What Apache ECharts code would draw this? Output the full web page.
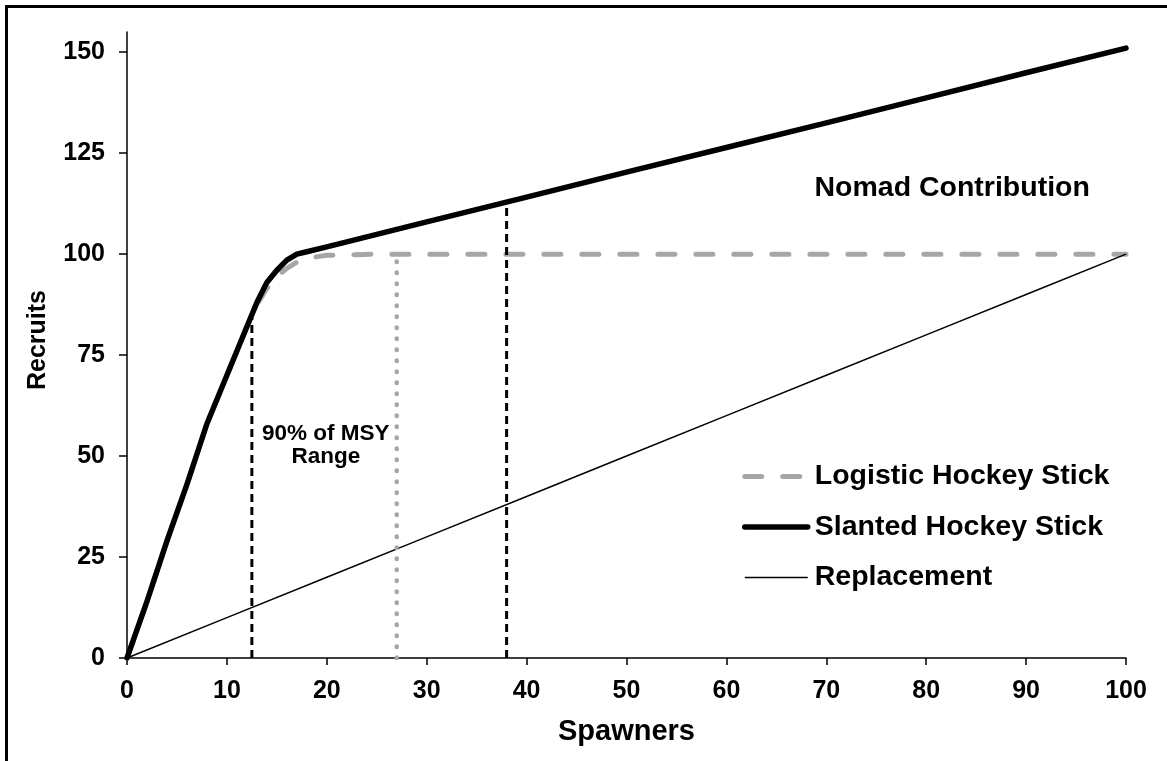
<!DOCTYPE html>
<html><head><meta charset="utf-8">
<script src="https://cdn.jsdelivr.net/npm/echarts@6/dist/echarts.min.js"></script>
<style>html,body{margin:0;padding:0;background:#fff}#c{width:1167px;height:761px}</style>
</head><body><div id="c"></div>
<script>
// ---- data ----
const spawners            = [0, 2, 4, 6, 8, 10, 12, 13, 14, 15, 16, 17, 18, 20, 25, 30, 40, 50, 60, 70, 80, 90, 100];
const slantedHockeyStick  = [0, 14, 29, 43, 58, 70, 82, 88, 93, 96, 98.5, 100, 100.6, 101.8, 104.9, 108, 114.1, 120.3, 126.4, 132.5, 138.7, 144.9, 151];
const logisticHockeyStick = [0, 14, 29, 43, 58, 70, 82, 87.5, 91.5, 94.5, 96.5, 98, 99, 99.7, 100, 100, 100, 100, 100, 100, 100, 100, 100];
const replacementSpawners = [0, 10, 20, 30, 40, 50, 60, 70, 80, 90, 100];
const replacementRecruits = [0, 10, 20, 30, 40, 50, 60, 70, 80, 90, 100];
const xTickValues = [0, 10, 20, 30, 40, 50, 60, 70, 80, 90, 100];
const yTickValues = [0, 25, 50, 75, 100, 125, 150];
const msyLowX = [12.5, 12.5],  msyLowY = [0, 85];
const msyMidX = [27, 27],      msyMidY = [0, 100];
const msyHighX = [38, 38],     msyHighY = [0, 113];
const seriesNames = ['Logistic Hockey Stick', 'Slanted Hockey Stick', 'Replacement'];
const nomadLabel = 'Nomad Contribution', nomadAt = [82.6, 116.3];
const msyLabel = '90% of MSY\nRange', msyLabelAt = [19.9, 52.7];

const FONT = "'Liberation Sans', Arial, Helvetica, sans-serif";
const pairs = (xs, ys) => xs.map((x, i) => [x, ys[i]]);
const GRAY = '#a6a6a6';

const chart = echarts.init(document.getElementById('c'));
const option = {
  animation: false,
  backgroundColor: '#fff',
  grid: { left: 127, right: 41, top: 32, bottom: 103, containLabel: false, outerBoundsMode: 'none' },
  xAxis: {
    type: 'value', min: 0, max: 100, interval: 10,
    name: 'Spawners', nameLocation: 'middle', nameGap: 59,
    nameTextStyle: { fontFamily: FONT, fontWeight: 'bold', fontSize: 29, color: '#000' },
    axisLine: { show: true, lineStyle: { color: '#000', width: 1.5 } },
    axisTick: { show: true, length: 7, lineStyle: { color: '#000', width: 1.5 } },
    axisLabel: { fontFamily: FONT, fontWeight: 'bold', fontSize: 25, color: '#000', margin: 21 },
    splitLine: { show: false }
  },
  yAxis: {
    type: 'value', min: 0, max: 155, interval: 25,
    name: 'Recruits', nameLocation: 'middle', nameGap: 76, nameRotate: 90,
    nameTextStyle: { fontFamily: FONT, fontWeight: 'bold', fontSize: 25, color: '#000', padding: [0, 0, 0, 10] },
    axisLine: { show: true, lineStyle: { color: '#000', width: 1.5 } },
    axisTick: { show: true, length: 8, customValues: yTickValues, lineStyle: { color: '#000', width: 1.5 } },
    axisLabel: { fontFamily: FONT, fontWeight: 'bold', fontSize: 25, color: '#000', margin: 22, customValues: yTickValues },
    splitLine: { show: false }
  },
  legend: {
    data: seriesNames, orient: 'vertical', left: 742, top: 462, padding: 0,
    itemWidth: 63, itemHeight: 14, itemGap: 21.5, selectedMode: false,
    lineStyle: { width: 'inherit' },
    itemStyle: { opacity: 0, borderWidth: 0 },
    textStyle: { fontFamily: FONT, fontWeight: 'bold', fontSize: 28.5, color: '#000', padding: [0, 0, 0, 2] }
  },
  series: [
    { name: seriesNames[0], type: 'line', data: pairs(spawners, logisticHockeyStick), symbol: 'none', showSymbol: false,
      lineStyle: { color: GRAY, width: 5, type: [17, 21], cap: 'round', join: 'round' }, itemStyle: { color: GRAY }, z: 2 },
    { name: seriesNames[1], type: 'line', data: pairs(spawners, slantedHockeyStick), symbol: 'none', showSymbol: false,
      lineStyle: { color: '#000', width: 5.5, cap: 'round', join: 'round' }, itemStyle: { color: '#000' }, z: 3 },
    { name: seriesNames[2], type: 'line', data: pairs(replacementSpawners, replacementRecruits), symbol: 'none', showSymbol: false,
      lineStyle: { color: '#000', width: 1.5 }, itemStyle: { color: '#000' }, z: 3 },
    { name: 'msyLow', type: 'line', data: pairs(msyLowX, msyLowY), symbol: 'none', showSymbol: false,
      lineStyle: { color: '#000', width: 3, type: [8, 5] }, z: 4 },
    { name: 'msyMid', type: 'line', data: pairs(msyMidX, msyMidY), symbol: 'none', showSymbol: false,
      lineStyle: { color: GRAY, width: 4.5, type: [0.5, 10.5], cap: 'round' }, z: 4 },
    { name: 'msyHigh', type: 'line', data: pairs(msyHighX, msyHighY), symbol: 'none', showSymbol: false,
      lineStyle: { color: '#000', width: 3, type: [8, 5] }, z: 4 }
  ]
};
chart.setOption(option);

const pNomad = chart.convertToPixel({ gridIndex: 0 }, nomadAt);
const pMsy = chart.convertToPixel({ gridIndex: 0 }, msyLabelAt);
chart.setOption({
  graphic: [
    { type: 'rect', silent: true, z: 100, shape: { x: 6.5, y: 6.5, width: 1400, height: 1000 },
      style: { fill: 'none', stroke: '#000', lineWidth: 3 } },
    { type: 'text', silent: true, z: 100, x: pNomad[0], y: pNomad[1],
      style: { text: nomadLabel, fontFamily: FONT, fontWeight: 'bold', fontSize: 28.5, fill: '#000', align: 'center', verticalAlign: 'middle' } },
    { type: 'text', silent: true, z: 100, x: pMsy[0], y: pMsy[1],
      style: { text: msyLabel, fontFamily: FONT, fontWeight: 'bold', fontSize: 22.5, lineHeight: 23, fill: '#000', align: 'center', verticalAlign: 'middle' } }
  ]
});
</script>
</body></html>
